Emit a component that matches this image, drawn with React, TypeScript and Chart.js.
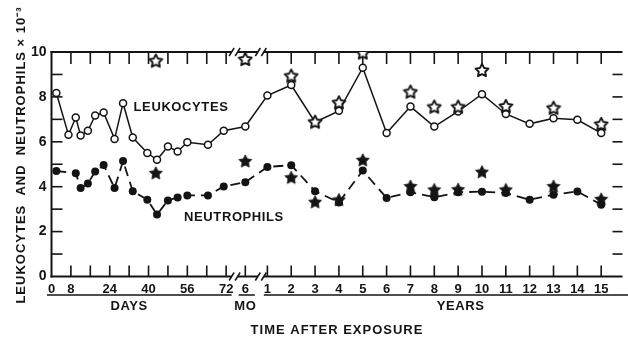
import React, { useEffect, useRef } from "react";
import { Chart, registerables } from "chart.js";

Chart.register(...registerables);

// ---------- data ----------
// Days after exposure (sampling days)
const sampleDays = [2, 7, 10, 12, 15, 18, 21.5, 26, 29.5, 33.5, 39.5, 43.5, 48, 52, 56, 64.5, 71];
const leukocytesDays = [8.17, 6.31, 7.08, 6.28, 6.49, 7.17, 7.3, 6.13, 7.72, 6.19, 5.5, 5.2, 5.79, 5.57, 5.98, 5.87, 6.49];
const neutrophilsDays = [4.7, null, 4.6, 3.94, 4.14, 4.68, 4.97, 3.94, 5.14, 3.8, 3.42, 2.76, 3.39, 3.52, 3.61, 3.61, 4.01];

// Six months
const leukocytes6Mo = 6.68;
const neutrophils6Mo = 4.2;

// Years after exposure
const sampleYears = [1, 2, 3, 4, 5, 6, 7, 8, 9, 10, 11, 12, 13, 14, 15];
const leukocytesYears = [8.06, 8.53, 6.87, 7.38, 9.3, 6.39, 7.57, 6.68, 7.35, 8.12, 7.24, 6.8, 7.05, 6.98, 6.39];
const neutrophilsYears = [4.88, 4.96, 3.8, 3.3, 4.72, 3.5, 3.75, 3.53, 3.75, 3.78, 3.72, 3.42, 3.64, 3.79, 3.2];

// Star markers (open = leukocytes, filled = neutrophils)
const starDays = [43];
const openStarDays = [9.62];
const filledStarDays = [4.62];
const openStar6Mo = 9.69;
const filledStar6Mo = 5.15;
const starYears = [2, 3, 4, 5, 7, 8, 9, 10, 11, 13, 15];
const openStarYears = [8.95, 6.9, 7.76, 9.98, 8.24, 7.57, 7.57, 9.2, 7.6, 7.52, 6.8];
const filledStarYears = [4.42, 3.33, 3.43, 5.2, 4.03, 3.88, 3.89, 4.67, 3.88, 4.03, 3.46];

// Tick labels
const dayTicks = [0, 8, 16, 24, 32, 40, 48, 56, 64, 72];
const dayTickLabels = ["0", "8", "", "24", "", "40", "", "56", "", "72"];
const monthTickLabel = "6";
const yearTickLabels = sampleYears.map(String);

// ---------- broken-axis layout (position units on one linear scale) ----------
const POS_6MO = 79.9;
const POS_YEAR1 = 89.0;
const YEAR_STEP = 9.83;
const X_MAX = 235.4;
const BREAK1 = 75.5;
const BREAK2 = 86.3;
const posDay = (d: number) => d;
const posYear = (y: number) => POS_YEAR1 + (y - 1) * YEAR_STEP;

const INK = "#141414";
const FONT = '"Liberation Sans", Arial, sans-serif';

function makeStar(filled: boolean, size: number): HTMLCanvasElement {
  const c = document.createElement("canvas");
  c.width = size;
  c.height = size;
  const g = c.getContext("2d")!;
  const cx = size / 2;
  const cy = size / 2 + 0.7;
  const R = size / 2 - 1.2;
  const r = R * 0.5;
  g.beginPath();
  for (let i = 0; i < 10; i++) {
    const ang = -Math.PI / 2 + (i * Math.PI) / 5;
    const rad = i % 2 === 0 ? R : r;
    const px = cx + rad * Math.cos(ang);
    const py = cy + rad * Math.sin(ang);
    if (i === 0) g.moveTo(px, py);
    else g.lineTo(px, py);
  }
  g.closePath();
  if (filled) {
    g.fillStyle = INK;
    g.fill();
    g.lineWidth = 0.8;
    g.strokeStyle = INK;
    g.stroke();
  } else {
    g.fillStyle = "#fff";
    g.fill();
    g.lineWidth = 1.9;
    g.lineJoin = "round";
    g.strokeStyle = INK;
    g.stroke();
  }
  return c;
}

export default function App() {
  const ref = useRef<HTMLCanvasElement | null>(null);

  useEffect(() => {
    if (!ref.current) return;

    const leukPoints = [
      ...sampleDays.map((d, i) => ({ x: posDay(d), y: leukocytesDays[i] })),
      { x: POS_6MO, y: leukocytes6Mo },
      ...sampleYears.map((yr, i) => ({ x: posYear(yr), y: leukocytesYears[i] })),
    ];
    const neutPoints = [
      ...sampleDays
        .map((d, i) => ({ x: posDay(d), y: neutrophilsDays[i] }))
        .filter((p) => p.y !== null),
      { x: POS_6MO, y: neutrophils6Mo },
      ...sampleYears.map((yr, i) => ({ x: posYear(yr), y: neutrophilsYears[i] })),
    ];
    const openStars = [
      ...starDays.map((d, i) => ({ x: posDay(d), y: openStarDays[i] })),
      { x: POS_6MO, y: openStar6Mo },
      ...starYears.map((yr, i) => ({ x: posYear(yr), y: openStarYears[i] })),
    ];
    const filledStars = [
      ...starDays.map((d, i) => ({ x: posDay(d), y: filledStarDays[i] })),
      { x: POS_6MO, y: filledStar6Mo },
      ...starYears.map((yr, i) => ({ x: posYear(yr), y: filledStarYears[i] })),
    ];

    const tickPositions = [...dayTicks.map(posDay), POS_6MO, ...sampleYears.map(posYear)];
    const tickLabels = [...dayTickLabels, monthTickLabel, ...yearTickLabels];

    const openStarImg = makeStar(false, 16);
    const filledStarImg = makeStar(true, 16);

    const line = (ctx: CanvasRenderingContext2D, x1: number, y1: number, x2: number, y2: number) => {
      ctx.beginPath();
      ctx.moveTo(x1, y1);
      ctx.lineTo(x2, y2);
      ctx.stroke();
    };

    const framePlugin = {
      id: "frame",
      beforeDatasetsDraw(chart: any) {
        const { ctx, chartArea: a, scales } = chart;
        const xs = scales.x;
        const ys = scales.y;
        ctx.save();
        ctx.strokeStyle = INK;
        ctx.lineCap = "butt";
        ctx.lineWidth = 2;
        // left axis
        line(ctx, a.left, a.top - 1, a.left, a.bottom + 1);
        // top & bottom with breaks
        const b1 = xs.getPixelForValue(BREAK1);
        const b2 = xs.getPixelForValue(BREAK2);
        for (const y of [a.top, a.bottom]) {
          line(ctx, a.left - 1, y, b1 - 3, y);
          line(ctx, b1 + 3, y, b2 - 3, y);
          line(ctx, b2 + 3, y, a.right, y);
          ctx.lineWidth = 1.5;
          for (const bx of [b1 - 3, b1 + 3, b2 - 3, b2 + 3]) {
            line(ctx, bx - 2.5, y + 4, bx + 2.5, y - 4);
          }
          ctx.lineWidth = 2;
        }
        // inward x ticks
        ctx.lineWidth = 1.6;
        for (const v of tickPositions) {
          const px = xs.getPixelForValue(v);
          if (v === 0) continue;
          line(ctx, px, a.bottom, px, a.bottom - 11);
          line(ctx, px, a.top, px, a.top + 12);
        }
        // inward y ticks
        for (let v = 1; v < 10; v++) {
          const py = ys.getPixelForValue(v);
          line(ctx, a.left, py, a.left + 11, py);
          line(ctx, a.right, py, a.right - 10, py);
        }
        // underline brackets under tick labels
        ctx.lineWidth = 1.5;
        const uy = 295;
        line(ctx, 47, uy, b1 - 3, uy);
        line(ctx, b1 + 4, uy, b2 - 6, uy);
        line(ctx, b2 + 3, uy, 628, uy);

        // texts
        ctx.fillStyle = INK;
        ctx.font = `bold 13px ${FONT}`;
        (ctx as any).letterSpacing = "0.6px";
        ctx.textAlign = "center";
        ctx.textBaseline = "middle";
        ctx.fillText("DAYS", xs.getPixelForValue(32), 306);
        ctx.fillText("MO", xs.getPixelForValue(POS_6MO), 306);
        ctx.fillText("YEARS", xs.getPixelForValue(posYear(9.1)), 306);
        (ctx as any).letterSpacing = "1px";
        ctx.fillText("TIME AFTER EXPOSURE", (a.left + a.right) / 2, 330);
        (ctx as any).letterSpacing = "0.6px";
        ctx.fillText("LEUKOCYTES", 181, 107);
        ctx.fillText("NEUTROPHILS", 234, 217);

        // y title
        ctx.save();
        ctx.translate(21, 155);
        ctx.rotate(-Math.PI / 2);
        (ctx as any).letterSpacing = "1px";
        ctx.fillText("LEUKOCYTES  AND  NEUTROPHILS × 10\u207B\u00B3", 0, 0);
        ctx.restore();
        ctx.restore();
      },
    };

    const chart = new Chart(ref.current, {
      type: "line",
      data: {
        datasets: [
          {
            label: "Leukocytes (star)",
            data: openStars,
            showLine: false,
            pointStyle: openStarImg as any,
            order: 0,
          },
          {
            label: "Neutrophils (star)",
            data: filledStars,
            showLine: false,
            pointStyle: filledStarImg as any,
            order: 0,
          },
          {
            label: "Leukocytes",
            data: leukPoints,
            borderColor: INK,
            borderWidth: 1.5,
            pointRadius: 3.5,
            pointBackgroundColor: "#fff",
            pointBorderColor: INK,
            pointBorderWidth: 1.5,
            tension: 0,
            order: 1,
          },
          {
            label: "Neutrophils",
            data: neutPoints,
            borderColor: INK,
            borderWidth: 1.8,
            borderDash: [10, 6],
            pointRadius: 4,
            pointBackgroundColor: INK,
            pointBorderColor: INK,
            pointBorderWidth: 0,
            tension: 0,
            order: 1,
          },
        ],
      },
      options: {
        animation: false,
        responsive: false,
        devicePixelRatio: 1,
        layout: { padding: { top: 52, right: 0, left: 0, bottom: 0 } },
        plugins: {
          legend: { display: false },
          tooltip: { enabled: false },
          title: { display: false },
        },
        scales: {
          x: {
            type: "linear",
            min: 0,
            max: X_MAX,
            grid: { display: false, drawTicks: false },
            border: { display: false },
            afterBuildTicks: (scale: any) => {
              scale.ticks = tickPositions.map((v) => ({ value: v }));
            },
            afterFit: (scale: any) => {
              scale.height = 65.5;
            },
            ticks: {
              autoSkip: false,
              maxRotation: 0,
              padding: 5,
              color: INK,
              font: { family: FONT, size: 13, weight: "bold" },
              callback: (_v: any, i: number) => tickLabels[i],
            },
          },
          y: {
            min: 0,
            max: 10,
            grid: { display: false, drawTicks: false },
            border: { display: false },
            afterFit: (scale: any) => {
              scale.width = 51.5;
            },
            ticks: {
              stepSize: 1,
              padding: 5,
              color: INK,
              font: { family: FONT, size: 14, weight: "bold" },
              callback: (v: any) => (Number(v) % 2 === 0 ? String(v) : ""),
            },
          },
        },
      },
      plugins: [framePlugin],
    });

    return () => chart.destroy();
  }, []);

  return (
    <div style={{ position: "absolute", left: 0, top: 0, width: 628, height: 342, background: "#fff" }}>
      <canvas ref={ref} width={628} height={342} style={{ width: 628, height: 342 }} />
    </div>
  );
}
